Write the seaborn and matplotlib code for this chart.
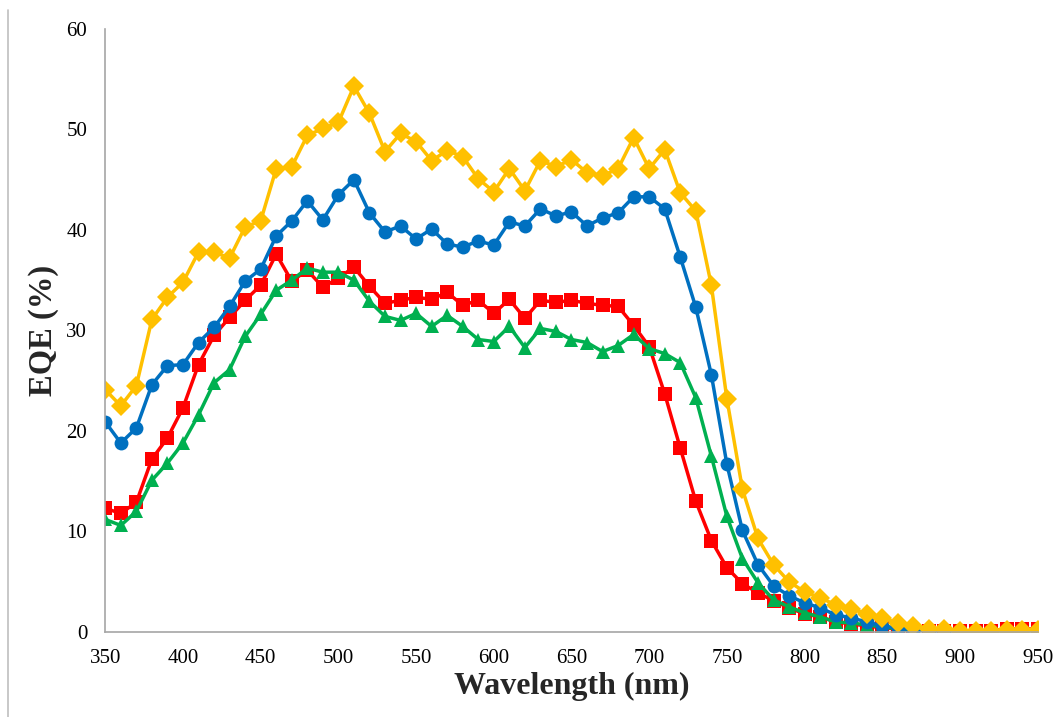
import numpy as np
import pandas as pd
import matplotlib
matplotlib.use("Agg")
import matplotlib.pyplot as plt
import seaborn as sns
from matplotlib.ticker import MultipleLocator
from matplotlib.lines import Line2D

# Wavelength grid (nm)
wavelength = list(range(350, 951, 10))

# EQE (%) for each device
eqe_yellow = [24.1, 22.5, 24.5, 31.1, 33.3, 34.8, 37.8, 37.8, 37.2, 40.3,
              40.9, 46.1, 46.3, 49.4, 50.1, 50.7, 54.3, 51.6, 47.8, 49.6,
              48.8, 46.9, 47.9, 47.3, 45.1, 43.8, 46.1, 43.9, 46.9, 46.3,
              47.0, 45.7, 45.4, 46.1, 49.2, 46.1, 48.0, 43.7, 41.9, 34.5,
              23.2, 14.2, 9.3, 6.7, 5.0, 4.0, 3.4, 2.7, 2.3, 1.8,
              1.4, 0.9, 0.6, 0.3, 0.3, 0.1, 0.1, 0.1, 0.2, 0.2, 0.2]

eqe_blue = [20.9, 18.8, 20.3, 24.6, 26.5, 26.6, 28.8, 30.3, 32.4, 34.9,
            36.1, 39.4, 40.9, 42.9, 41.0, 43.5, 45.0, 41.7, 39.8, 40.4,
            39.1, 40.1, 38.6, 38.3, 38.9, 38.5, 40.8, 40.4, 42.1, 41.4,
            41.8, 40.4, 41.2, 41.7, 43.3, 43.3, 42.1, 37.3, 32.3, 25.6,
            16.7, 10.1, 6.7, 4.6, 3.6, 2.9, 2.4, 1.7, 1.4, 1.0,
            0.6, 0.4, 0.2, 0.1, 0.1, 0.1, 0.1, 0.1, 0.1, 0.1, 0.1]

eqe_red = [12.3, 11.8, 12.9, 17.2, 19.3, 22.3, 26.6, 29.5, 31.3, 33.0,
           34.5, 37.6, 34.9, 36.0, 34.3, 35.2, 36.3, 34.4, 32.7, 33.0,
           33.3, 33.1, 33.8, 32.5, 33.0, 31.7, 33.1, 31.2, 33.0, 32.8,
           33.0, 32.7, 32.5, 32.4, 30.5, 28.4, 23.7, 18.3, 13.0, 9.1,
           6.4, 4.8, 3.9, 3.1, 2.4, 1.8, 1.5, 1.0, 0.8, 0.6,
           0.4, 0.3, 0.2, 0.1, 0.1, 0.1, 0.1, 0.1, 0.3, 0.3, 0.3]

eqe_green = [11.2, 10.6, 12.0, 15.1, 16.8, 18.8, 21.6, 24.8, 26.1, 29.4,
             31.6, 34.0, 35.0, 36.2, 35.8, 35.8, 35.0, 32.9, 31.4, 31.0,
             31.7, 30.4, 31.5, 30.4, 29.1, 28.9, 30.4, 28.3, 30.2, 29.9,
             29.1, 28.8, 27.9, 28.5, 29.6, 28.2, 27.7, 26.8, 23.3, 17.5,
             11.5, 7.3, 4.9, 3.2, 2.5, 1.9, 1.5, 1.0, 0.9, 0.7,
             0.5, 0.3, 0.1, 0.0, 0.0, 0.0, 0.0, 0.0, 0.3, 0.1, 0.2]

series = {
    "red": eqe_red,
    "green": eqe_green,
    "blue": eqe_blue,
    "yellow": eqe_yellow,
}
palette = {"red": "#FF0000", "green": "#00B050", "blue": "#0070C0", "yellow": "#FFC000"}
markers = {"red": "s", "green": "^", "blue": "o", "yellow": "D"}
marker_sizes = {"red": 9.5, "green": 10.5, "blue": 10, "yellow": 10}

df = pd.DataFrame(
    [(w, v, name) for name, vals in series.items() for w, v in zip(wavelength, vals)],
    columns=["wavelength", "eqe", "device"],
)

sns.set_style("white")
plt.rcParams["font.family"] = ["Liberation Serif", "DejaVu Serif"]

fig = plt.figure(figsize=(10.58, 7.17), dpi=100)
ax = fig.add_axes([0.0995, 0.1186, 0.8813, 0.841])

for name in series:
    sub = df[df["device"] == name]
    sns.lineplot(data=sub, x="wavelength", y="eqe", ax=ax, color=palette[name],
                 marker=markers[name], markersize=marker_sizes[name],
                 markeredgewidth=0, linewidth=2.5, legend=False)

ax.set_xlim(350, 950)
ax.set_ylim(0, 60)
ax.xaxis.set_major_locator(MultipleLocator(50))
ax.xaxis.set_minor_locator(MultipleLocator(10))
ax.yaxis.set_major_locator(MultipleLocator(10))
ax.yaxis.set_minor_locator(MultipleLocator(2))

axis_gray = "#A6A6A6"
for side in ["top", "right"]:
    ax.spines[side].set_visible(False)
for side in ["left", "bottom"]:
    ax.spines[side].set_color(axis_gray)
    ax.spines[side].set_linewidth(1.2)

ax.tick_params(which="major", direction="inout", length=8, width=1.1,
               color=axis_gray, labelsize=15, labelcolor="black")
ax.tick_params(which="minor", direction="in", length=4, width=1.0, color=axis_gray)
ax.tick_params(axis="y", which="major", pad=9)
ax.tick_params(axis="x", which="major", pad=8)

ax.set_xlabel("Wavelength (nm)", fontsize=23, fontweight="bold", labelpad=3)
ax.set_ylabel("EQE (%)", fontsize=23.5, fontweight="bold", labelpad=5)

# thin frame edge at the left side of the figure
fig.add_artist(Line2D([8 / 1058, 8 / 1058], [0, 1 - 10 / 717],
                      transform=fig.transFigure, color="#BFBFBF", linewidth=1.2))

fig.savefig("out.png", dpi=100)
